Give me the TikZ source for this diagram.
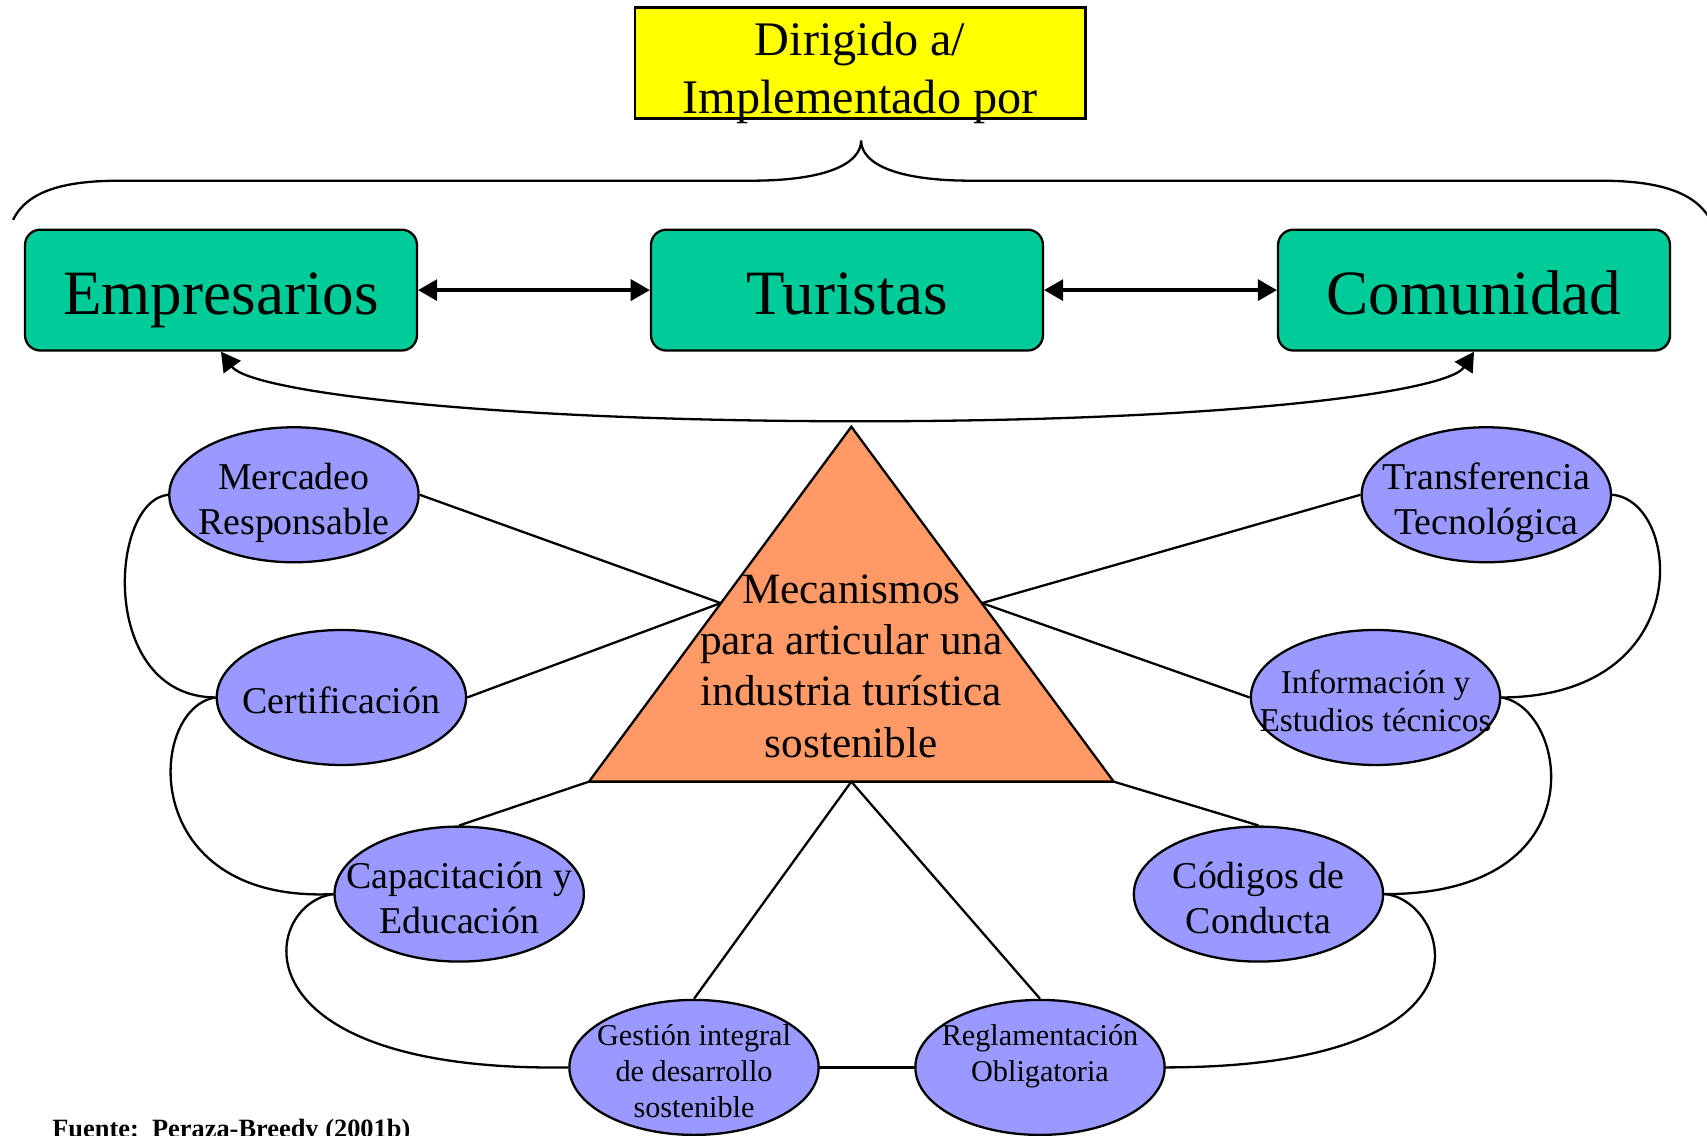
\documentclass[tikz,border=0pt]{standalone}
\usepackage{fontspec}
\setmainfont{Liberation Serif}
\usepackage{tikz}
\usetikzlibrary{arrows.meta,shapes}
\definecolor{amarillo}{RGB}{255,255,0}
\definecolor{verde}{RGB}{0,204,153}
\definecolor{naranja}{RGB}{255,153,102}
\definecolor{lila}{RGB}{153,153,255}
\newcommand{\letra}[2]{\fontsize{#1}{#2}\selectfont}

\begin{document}
\begin{tikzpicture}[line width=.6pt, >={Triangle[length=5pt,width=5.5pt]}]
	\tikzstyle{every node} = [inner sep=0pt]
	\tikzstyle{actor} = [rectangle, rounded corners=4pt, draw, fill=verde, minimum width=3.6cm, minimum height=1.11cm, font=\letra{16.5}{19.8}, text height=12.7pt, text depth=0pt]
	\tikzstyle{mech} = [ellipse, draw, fill=lila, minimum width=2.29cm, minimum height=1.24cm, inner xsep=-8pt, inner ysep=0pt, align=center, font=\letra{9.9}{11.8}, text height=20.6pt, text depth=0pt]
	\tikzstyle{small} = [font=\letra{7.9}{9.4}, text height=26.4pt, inner ysep=-3pt]
	\useasboundingbox (0,0) rectangle (15.68,10.43);
	\node[rectangle, draw, fill=amarillo, minimum width=4.14cm, minimum height=1.02cm] (dir) at (7.90,9.85) {};
	\node[align=center, font=\letra{12.6}{15.4}] (dirtxt) at (7.90,9.76) {Dirigido a/\\Implementado por};
	\draw (0.12,8.41) .. controls (0.25,8.68) and (0.60,8.77) .. (1.10,8.77) -- (6.90,8.77)
		.. controls (7.60,8.77) and (7.91,8.93) .. (7.91,9.14)
		.. controls (7.91,8.93) and (8.22,8.77) .. (8.92,8.77) -- (14.70,8.77)
		.. controls (15.20,8.77) and (15.55,8.68) .. (15.70,8.43);
	\node[actor] (emp) at (2.03,7.765) {Empresarios};
	\node[actor] (tur) at (7.78,7.765) {Turistas};
	\node[actor] (com) at (13.54,7.765) {Comunidad};
	\draw [<->, line width=.9pt] (emp) -- (tur);
	\draw [<->, line width=.9pt] (tur) -- (com);
	\coordinate (low) at (7.90,6.56);
	\draw [<->] (emp.south) .. controls (2.30,6.83) and (4.50,6.56) .. (low)
		.. controls (11.30,6.56) and (13.30,6.83) .. (com.south);
	\coordinate (top) at (7.82,6.51);
	\coordinate (bl)  at (5.41,3.25);
	\coordinate (br)  at (10.23,3.25);
	\coordinate (bm)  at (7.82,3.25);
	\coordinate (lft) at (6.62,4.89);
	\coordinate (rgt) at (9.02,4.89);
	\filldraw [fill=naranja] (bl) -- (top) -- (br) -- cycle;
	\node[align=center, font=\letra{11.3}{13.4}] (mec) at (7.82,4.31) {Mecanismos\\para articular una\\industria turística\\sostenible};
	\node[mech] (merc)  at (2.70,5.885)  {Mercadeo\\Responsable};
	\node[mech, text height=8.6pt] (cert) at (3.136,4.023) {Certificación};
	\node[mech] (capa)  at (4.218,2.217) {Capacitación y\\Educación};
	\node[mech, small] (gest) at (6.375,0.625) {Gestión integral\\de desarrollo\\sostenible};
	\node[mech, small] (regl) at (9.553,0.625) {Reglamentación\\Obligatoria\\\mbox{}};
	\node[mech] (cod)   at (11.56,2.217) {Códigos de\\Conducta};
	\node[mech, font=\letra{8.7}{10}, text height=18pt] (info) at (12.635,4.023) {Información y\\Estudios técnicos};
	\node[mech] (trans) at (13.653,5.885) {Transferencia\\Tecnológica};
	\draw (merc.east) -- (lft);
	\draw (cert.east) -- (lft);
	\draw (capa.north) -- (bl);
	\draw (gest.north) -- (bm);
	\draw (regl.north) -- (bm);
	\draw (cod.north) -- (br);
	\draw (info.west) -- (rgt);
	\draw (trans.west) -- (rgt);
	\draw (merc.west) .. controls (1.00,5.83) and (0.90,4.03) .. (cert.west);
	\draw (cert.west) .. controls (1.35,3.93) and (1.25,2.13) .. (capa.west);
	\draw (capa.west) .. controls (2.40,2.13) and (2.10,0.58) .. (gest.west);
	\draw (gest.east) -- (regl.west);
	\draw (regl.east) .. controls (13.90,0.63) and (13.30,2.18) .. (cod.east);
	\draw (cod.east) .. controls (14.70,2.21) and (14.40,3.93) .. (info.east);
	\draw (info.east) .. controls (15.60,4.03) and (15.45,5.83) .. (trans.east);
	\node[anchor=base west, font=\letra{6.9}{8}\bfseries] (fuente) at (0.47,-0.02) {Fuente:\ \ Peraza-Breedy (2001b)};
\end{tikzpicture}
\end{document}
